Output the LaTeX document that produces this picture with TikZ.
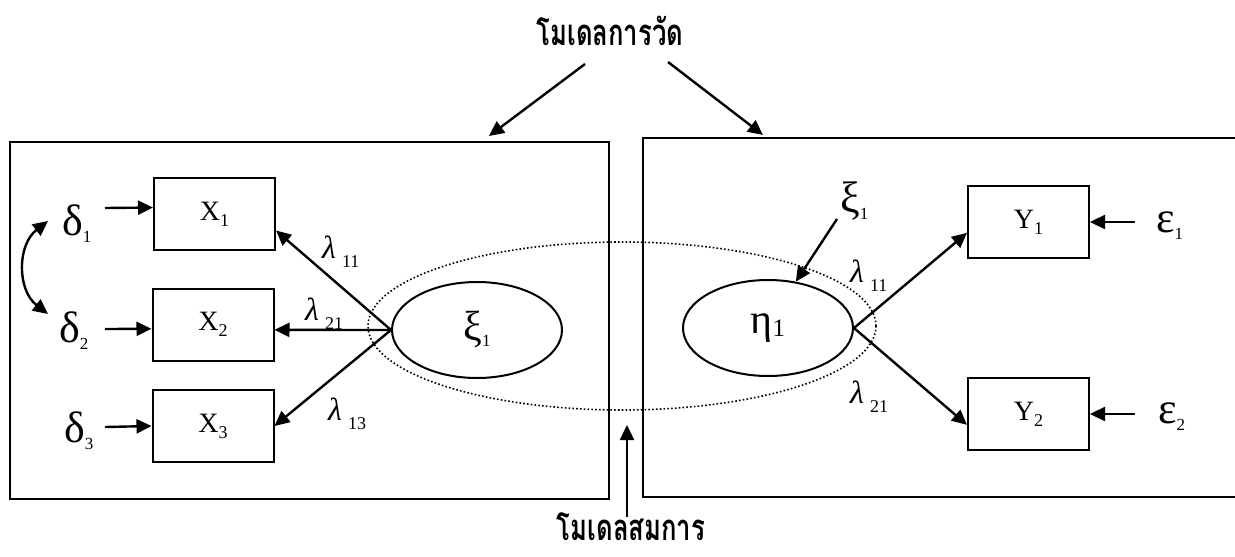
\documentclass[tikz,border=0pt]{standalone}
\usepackage{fontspec}
\setmainfont{Liberation Serif}
\newfontfamily\thaifont[Script=Thai]{Loma}
\usetikzlibrary{arrows.meta,shapes.geometric,calc}

\newcommand\gsub[1]{\raisebox{-7pt}{\fontsize{17}{17}\selectfont #1}}
\newcommand\xsub[1]{\raisebox{-6pt}{\fontsize{18}{18}\selectfont #1}}
\newcommand\lsub[1]{\hspace{6pt}\raisebox{-9pt}{\fontsize{18}{18}\selectfont #1}}
\newcommand\lam[1]{{\itshape λ}\lsub{#1}}
\newcommand\thaitext[1]{\scalebox{0.95}[1.35]{#1}}

\tikzset{
 frame/.style={line width=2pt},
 obs/.style={draw, line width=2pt, minimum width=121pt, minimum height=72pt, inner sep=0pt, font=\fontsize{28}{28}\selectfont},
 lat/.style={draw, ellipse, line width=2pt, minimum width=170pt, minimum height=96pt, inner sep=0pt, font=\fontsize{42}{42}\selectfont},
 greek/.style={inner sep=0pt, anchor=base west, font=\fontsize{44}{44}\selectfont},
 lamlab/.style={inner sep=0pt, anchor=base west, font=\fontsize{32}{32}\selectfont},
 thai/.style={inner sep=0pt, anchor=base, font=\thaifont\bfseries\fontsize{27}{30}\selectfont},
 arr/.style={line width=2.4pt, -{Triangle[length=15pt,width=14pt]}},
 darr/.style={line width=2.4pt, {Triangle[length=15pt,width=14pt]}-{Triangle[length=15pt,width=14pt]}},
 dotell/.style={draw, ellipse, line width=1.6pt, dash pattern=on 1.6pt off 2.2pt, minimum width=508pt, minimum height=168pt, inner sep=0pt}
}

\begin{document}
\begin{tikzpicture}[x=1pt,y=-1pt]
\useasboundingbox (0,0) rectangle (1235,557);

% frames
\draw[frame] (10,142) rectangle (609,499);
\draw[frame] (1237,138) -- (643,138) -- (643,497) -- (1237,497);

% structural model ellipse
\node[dotell] (eq) at (622,326) {};

% titles
\node[thai] (T) at (610,45) {\thaitext{โมเดลการวัด}};
\node[thai] (B) at (631,540) {\thaitext{โมเดลสมการ}};
\coordinate (tl) at (585,64);
\coordinate (tle) at (489,136);
\coordinate (tr) at (668,62);
\coordinate (tre) at (763,135);
\coordinate (bs) at (627,517);
\coordinate (be) at (627,425);
\draw[arr] (tl) -- (tle);
\draw[arr] (tr) -- (tre);
\draw[arr] (bs) -- (be);

% observed variables
\node[obs] (X1) at (214.5,214) {X\xsub{1}};
\node[obs] (X2) at (213,324.5) {X\xsub{2}};
\node[obs] (X3) at (213,426) {X\xsub{3}};
\node[obs] (Y1) at (1028.5,222) {Y\xsub{1}};
\node[obs] (Y2) at (1028.5,414) {Y\xsub{2}};

% latent variables
\node[lat] (xi) at (477,330) {ξ\raisebox{-6pt}{\fontsize{17}{17}\selectfont 1}};
\node[lat] (eta) at (768,328) {η\raisebox{-3pt}{\fontsize{25}{25}\selectfont 1}};

% error labels
\node[greek] (d1) at (62,235) {δ\gsub{1}};
\node[greek] (d2) at (59,342) {δ\gsub{2}};
\node[greek] (d3) at (64,442) {δ\gsub{3}};
\node[greek] (e1) at (1156,232) {ε\gsub{1}};
\node[greek] (e2) at (1158,423) {ε\gsub{2}};
\node[greek] (z1) at (840,212) {ξ\gsub{1}};

\coordinate (d1s) at (105,208);
\coordinate (d2s) at (105,329);
\coordinate (d3s) at (105,427);
\draw[arr] (d1s) -- (X1.174);
\draw[arr] (d2s) -- (X2.184);
\draw[arr] (d3s) -- (X3.west);

\coordinate (c1) at (48,221);
\coordinate (c2) at (48,314);
\draw[darr] (c1) .. controls (17,245) and (17,290) .. (c2);

\coordinate (e1s) at (1135,222);
\coordinate (e2s) at (1135,414);
\draw[arr] (e1s) -- (Y1.east);
\draw[arr] (e2s) -- (Y2.east);

\coordinate (z1s) at (837,219);
\draw[arr] (z1s) -- (eta.59);

% loadings
\draw[arr] (xi.west) -- (X1.-15);
\draw[arr] (xi.west) -- (X2.-5);
\draw[arr] (xi.west) -- (X3.east);
\draw[arr] (eta.east) -- (Y1.190);
\draw[arr] (eta.east) -- (Y2.190);

\node[lamlab] (l11) at (322,258) {\lam{11}};
\node[lamlab] (l21) at (305,320) {\lam{21}};
\node[lamlab] (l13) at (328,420) {\lam{13}};
\node[lamlab] (r11) at (850,282) {\lam{11}};
\node[lamlab] (r21) at (850,403) {\lam{21}};
\end{tikzpicture}
\end{document}
